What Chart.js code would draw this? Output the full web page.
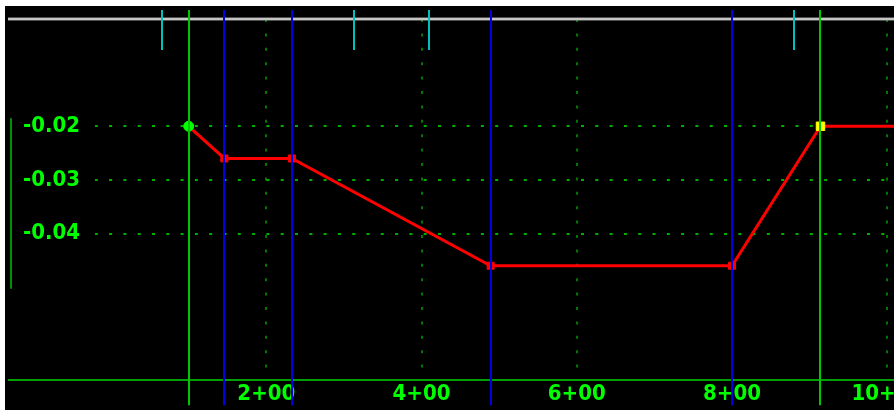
<!DOCTYPE html>
<html>
<head>
<meta charset="utf-8">
<script src="https://cdn.jsdelivr.net/npm/chart.js@4.4.1/dist/chart.umd.min.js"></script>
<style>
  html, body { margin: 0; padding: 0; background: #fff; overflow: hidden; }
  #wrap { position: absolute; left: 0; top: 0; width: 960px; height: 410px; }
</style>
</head>
<body>
<div id="wrap"><canvas id="profile" width="960" height="410"></canvas></div>
<script>
// grade line points (station, elevation)
const stations   = [100, 146, 233, 489, 800, 914, 1092];
const elevations = [-0.02, -0.026, -0.026, -0.046, -0.046, -0.02, -0.02];
const pointKinds = ['start', 'pvi', 'pvi', 'pvi', 'pvi', 'end', 'none'];

const stationTicks   = [200, 400, 600, 800, 1000];
const elevationTicks = [-0.04, -0.03, -0.02];

const controlStations = [100, 914];            // green
const curveStations   = [146, 233, 489, 800];  // blue
const markStations    = [65, 313, 410, 880];   // cyan marks

const labelFont = { family: "'DejaVu Sans Condensed', 'DejaVu Sans', sans-serif", size: 22, weight: 'bold' };

const stationLabel = v => Math.floor(v / 100) + '+' + String(v % 100).padStart(2, '0');

const profileDecor = {
  id: 'profileDecor',
  beforeDraw(chart) {
    const c = chart.ctx;
    c.save();
    c.fillStyle = '#ffffff';
    c.fillRect(0, 0, chart.width, chart.height);
    c.fillStyle = '#000000';
    c.fillRect(5, 6, chart.width - 5, chart.height - 6);
    c.restore();
  },
  afterDraw(chart) {
    const c = chart.ctx, xs = chart.scales.x, ys = chart.scales.y;
    c.save();
    // zero line
    const y0 = ys.getPixelForValue(0);
    c.fillStyle = '#a0a0a0';
    c.fillRect(8, y0 - 1.5, chart.width, 3);
    c.fillStyle = '#e8e8e8';
    c.fillRect(8, y0 - 0.5, chart.width, 1);
    // short elevation axis line
    c.strokeStyle = '#009000';
    c.lineWidth = 2;
    c.beginPath();
    c.moveTo(xs.left + 2, ys.getPixelForValue(-0.0185));
    c.lineTo(xs.left + 2, ys.getPixelForValue(-0.0503));
    c.stroke();

    const vline = (st, from, to, color) => {
      const x = Math.round(xs.getPixelForValue(st));
      c.strokeStyle = color;
      c.beginPath();
      c.moveTo(x, ys.getPixelForValue(from));
      c.lineTo(x, ys.getPixelForValue(to));
      c.stroke();
    };
    controlStations.forEach(s => vline(s, 0.0017, -0.072, '#00c800'));
    curveStations.forEach(s => vline(s, 0.0017, -0.072, '#0000e0'));
    markStations.forEach(s => vline(s, 0.0017, -0.0058, '#00c0c0'));
    c.restore();
  }
};

new Chart(document.getElementById('profile').getContext('2d'), {
  type: 'line',
  data: {
    datasets: [{
      data: stations.map((s, i) => ({ x: s, y: elevations[i] })),
      borderColor: '#ff0000',
      borderWidth: 3,
      tension: 0,
      pointStyle: pointKinds.map(k => k === 'start' ? 'circle' : 'rect'),
      pointRadius: pointKinds.map(k => k === 'none' ? 0 : k === 'end' ? 6 : 5),
      pointBackgroundColor: pointKinds.map(k => k === 'start' ? '#00ff00' : k === 'end' ? '#ffff00' : '#ff0000'),
      pointBorderColor: pointKinds.map(k => k === 'start' ? '#00ff00' : k === 'end' ? '#ffff00' : '#ff0000'),
      pointBorderWidth: 1
    }]
  },
  options: {
    responsive: false,
    animation: false,
    devicePixelRatio: 1,
    layout: { padding: { left: 9, top: 19, right: 0, bottom: 0 } },
    plugins: { legend: { display: false }, tooltip: { enabled: false } },
    scales: {
      x: {
        type: 'linear',
        min: -131.5,
        max: 1086,
        afterBuildTicks: s => { s.ticks = stationTicks.map(v => ({ value: v })); },
        afterFit: s => { s.height = 30; s.paddingLeft = 0; s.paddingRight = 0; },
        grid: { color: '#007800', lineWidth: 2, drawTicks: false },
        border: { color: '#00a000', width: 2, dash: [3, 11.4] },
        ticks: {
          color: '#00ff00', font: labelFont, padding: 1,
          autoSkip: false, maxRotation: 0,
          callback: v => stationLabel(v)
        }
      },
      y: {
        type: 'linear',
        min: -0.0673,
        max: 0,
        afterBuildTicks: s => { s.ticks = elevationTicks.map(v => ({ value: v })); },
        afterFit: s => { s.width = 0; s.paddingTop = 0; s.paddingBottom = 0; },
        grid: { color: '#00b000', lineWidth: 2, drawTicks: false },
        border: { display: false, dash: [3, 11.3] },
        ticks: {
          mirror: true, padding: 14,
          color: '#00ff00', font: labelFont,
          showLabelBackdrop: true, backdropColor: '#000000',
          backdropPadding: { left: 14, right: 15, top: 2, bottom: 2 },
          callback: v => v.toFixed(2)
        }
      }
    }
  },
  plugins: [profileDecor]
});
</script>
</body>
</html>
